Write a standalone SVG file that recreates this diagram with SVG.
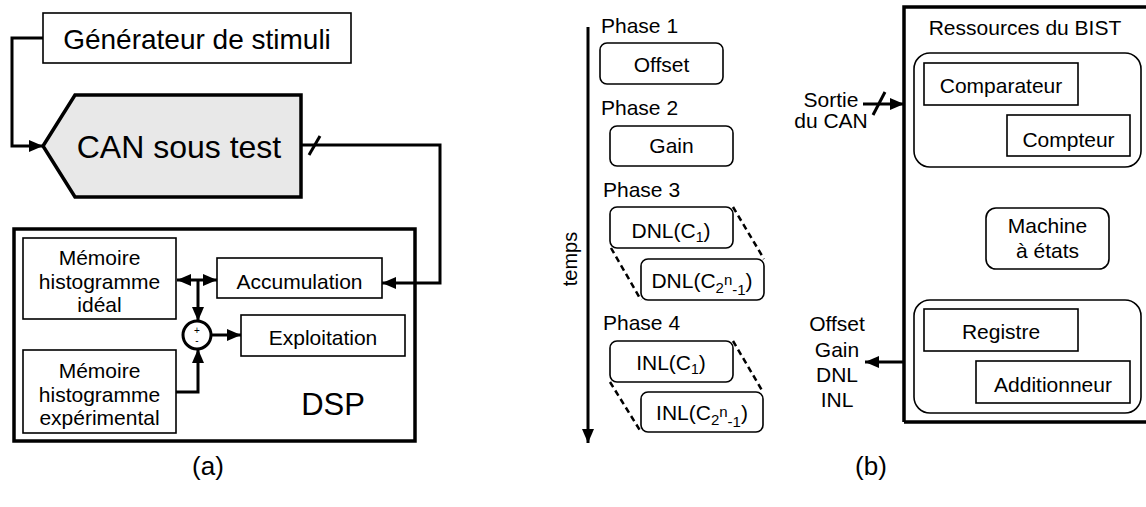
<svg xmlns="http://www.w3.org/2000/svg" width="1146" height="507" viewBox="0 0 1146 507">
<defs>
<style>
text{font-family:"Liberation Sans",Arial,sans-serif;fill:#000}
.t21{font-size:21px}
.box{fill:#fff;stroke:#000;stroke-width:1.6}
.rbox{fill:#fff;stroke:#000;stroke-width:1.6}
.thick{fill:none;stroke:#000;stroke-width:3.5}
.con{fill:none;stroke:#000;stroke-width:3}
.dash{fill:none;stroke:#000;stroke-width:2.5;stroke-dasharray:6 4}
</style>
<marker id="ah" markerUnits="userSpaceOnUse" markerWidth="14" markerHeight="12" viewBox="0 0 14 12" refX="14" refY="6" orient="auto-start-reverse">
<path d="M0,0 L14,6 L0,12 z" fill="#000"/>
</marker>
</defs>
<rect width="1146" height="507" fill="#fff"/>

<!-- Panel (a) -->
<g id="generateur">
<rect class="box" x="43" y="13" width="308" height="50"/>
<text x="197" y="49" font-size="28" text-anchor="middle">Générateur de stimuli</text>
</g>
<g id="can">
<polygon points="43,146 75,95 301,95 301,197 75,197" fill="#e8e8e8" stroke="#000" stroke-width="3.5"/>
<text x="179" y="158" font-size="32" text-anchor="middle">CAN sous test</text>
</g>
<g id="dsp">
<rect class="thick" x="14" y="229" width="401" height="212"/>
<text x="333" y="415" font-size="31" text-anchor="middle">DSP</text>
</g>
<g id="mem-ideal">
<rect class="box" x="23" y="238" width="153" height="81"/>
<text class="t21" x="99.5" y="265" text-anchor="middle">Mémoire</text>
<text class="t21" x="99.5" y="288.5" text-anchor="middle">histogramme</text>
<text class="t21" x="99.5" y="312" text-anchor="middle">idéal</text>
</g>
<g id="mem-exp">
<rect class="box" x="23" y="350" width="153" height="83"/>
<text class="t21" x="99.5" y="378" text-anchor="middle">Mémoire</text>
<text class="t21" x="99.5" y="402" text-anchor="middle">histogramme</text>
<text class="t21" x="99.5" y="425" text-anchor="middle">expérimental</text>
</g>
<g id="accumulation">
<rect class="box" x="217" y="258" width="165" height="40"/>
<text class="t21" x="299.5" y="289" text-anchor="middle">Accumulation</text>
</g>
<g id="exploitation">
<rect class="box" x="241" y="315" width="164" height="41"/>
<text class="t21" x="323" y="345" text-anchor="middle">Exploitation</text>
</g>
<g id="sommateur">
<circle cx="197" cy="335" r="14" fill="#fff" stroke="#000" stroke-width="3"/>
<text x="197" y="334" font-size="10" text-anchor="middle">+</text>
<text x="197" y="344" font-size="10" text-anchor="middle">-</text>
</g>
<text x="208" y="475" font-size="26" text-anchor="middle">(a)</text>

<!-- Panel (b) -->
<g id="timeline">
<text x="601" y="33" class="t21">Phase 1</text>
<text x="601" y="115" class="t21">Phase 2</text>
<text x="603" y="197" class="t21">Phase 3</text>
<text x="603" y="330" class="t21">Phase 4</text>
<text transform="translate(577,259) rotate(-90)" font-size="20" text-anchor="middle">temps</text>
</g>
<g id="offset">
<rect class="rbox" x="600" y="43" width="123" height="41" rx="7"/>
<text class="t21" x="661.5" y="72" text-anchor="middle">Offset</text>
</g>
<g id="gain">
<rect class="rbox" x="610" y="126" width="123" height="40" rx="7"/>
<text class="t21" x="671.5" y="153" text-anchor="middle">Gain</text>
</g>
<g id="dnl">
<path class="dash" d="M733,207 L764,259 M611,248 L641,300"/>
<rect class="rbox" x="610" y="207" width="123" height="41" rx="7"/>
<text class="t21" x="671" y="238" text-anchor="middle">DNL(C<tspan font-size="14" dy="4">1</tspan><tspan dy="-4">)</tspan></text>
<rect class="rbox" x="641" y="259" width="123" height="41" rx="7"/>
<text class="t21" x="702" y="288" text-anchor="middle">DNL(C<tspan font-size="15" dy="5">2</tspan><tspan font-size="15" dy="-8">n</tspan><tspan font-size="15" dy="10">-1</tspan><tspan dy="-7">)</tspan></text>
</g>
<g id="inl">
<path class="dash" d="M733,341 L763,392 M610,382 L641,432"/>
<rect class="rbox" x="610" y="341" width="123" height="41" rx="7"/>
<text class="t21" x="671" y="370" text-anchor="middle">INL(C<tspan font-size="14" dy="4">1</tspan><tspan dy="-4">)</tspan></text>
<rect class="rbox" x="641" y="392" width="122" height="40" rx="7"/>
<text class="t21" x="702" y="420" text-anchor="middle">INL(C<tspan font-size="15" dy="5">2</tspan><tspan font-size="15" dy="-8">n</tspan><tspan font-size="15" dy="10">-1</tspan><tspan dy="-7">)</tspan></text>
</g>
<g id="bist">
<path class="thick" d="M904,422 V7 H1150 M904,422 H1150" stroke-width="4"/>
<text class="t21" x="1025" y="35" text-anchor="middle">Ressources du BIST</text>
</g>
<g id="groupe-haut">
<rect class="rbox" x="914" y="53" width="227" height="114" rx="16"/>
<rect class="box" x="924" y="63" width="154" height="42"/>
<text class="t21" x="1001" y="93" text-anchor="middle">Comparateur</text>
<rect class="box" x="1007" y="115" width="123" height="41"/>
<text class="t21" x="1068.5" y="147" text-anchor="middle">Compteur</text>
</g>
<g id="machine">
<rect class="rbox" x="986" y="208" width="123" height="61" rx="10"/>
<text class="t21" x="1047.5" y="233" text-anchor="middle">Machine</text>
<text class="t21" x="1047.5" y="258" text-anchor="middle">à états</text>
</g>
<g id="groupe-bas">
<rect class="rbox" x="914" y="300" width="227" height="113" rx="16"/>
<rect class="box" x="924" y="309" width="154" height="42"/>
<text class="t21" x="1001" y="339" text-anchor="middle">Registre</text>
<rect class="box" x="976" y="361" width="154" height="42"/>
<text class="t21" x="1053" y="392" text-anchor="middle">Additionneur</text>
</g>
<g id="labels-b">
<text class="t21" x="831" y="107" text-anchor="middle">Sortie</text>
<text class="t21" x="831" y="128" text-anchor="middle">du CAN</text>
<text class="t21" x="837" y="331" text-anchor="middle">Offset</text>
<text class="t21" x="837" y="357" text-anchor="middle">Gain</text>
<text class="t21" x="837" y="382" text-anchor="middle">DNL</text>
<text class="t21" x="837" y="407" text-anchor="middle">INL</text>
</g>
<text x="871" y="475" font-size="26" text-anchor="middle">(b)</text>

<g id="connectors">
<path class="con" d="M43,38 H12 V146 H43" marker-end="url(#ah)"/>
<path class="con" d="M301,145 H440 V283 H382" marker-end="url(#ah)"/>
<line class="con" x1="309" y1="155" x2="320" y2="136"/>
<path class="con" d="M177,280 H217" marker-start="url(#ah)" marker-end="url(#ah)"/>
<path class="con" d="M198,280 V321" marker-end="url(#ah)"/>
<path class="con" d="M176,392 H198 V349" marker-end="url(#ah)"/>
<path class="con" d="M211,335 H241" marker-end="url(#ah)"/>
<path class="con" d="M588,27 V443" marker-end="url(#ah)"/>
<path class="con" d="M863,104 H904" marker-end="url(#ah)"/>
<line class="con" x1="873" y1="115" x2="885" y2="92"/>
<path class="con" d="M904,362 H865" marker-end="url(#ah)"/>
</g>
</svg>
